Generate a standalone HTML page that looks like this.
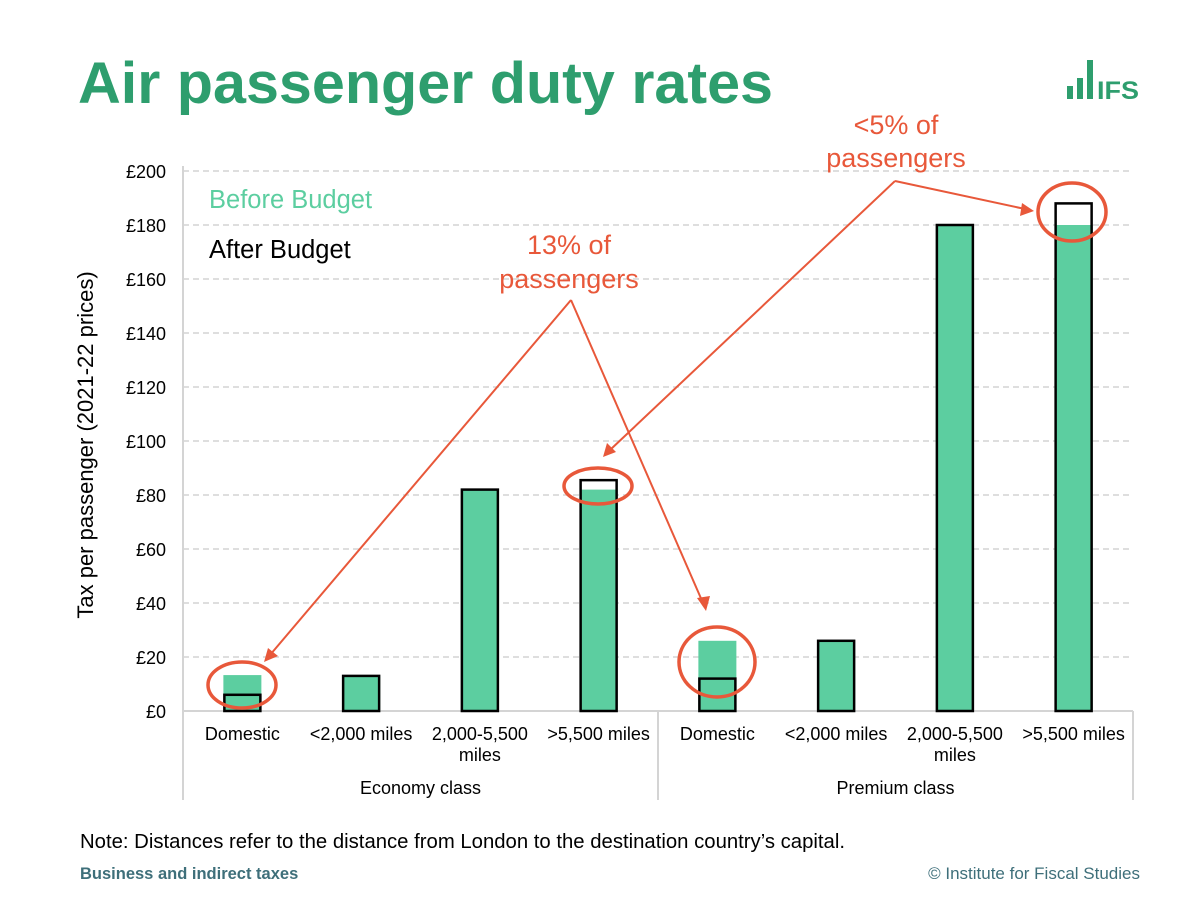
<!DOCTYPE html>
<html><head><meta charset="utf-8"><style>
body{margin:0;background:#fff;font-family:"Liberation Sans",sans-serif;}
svg text{font-family:"Liberation Sans",sans-serif;}
</style></head><body>
<svg id="c" width="1200" height="893" xmlns="http://www.w3.org/2000/svg">
<text x="78" y="103" font-size="58" font-weight="bold" fill="#2e9e6e" textLength="695" lengthAdjust="spacingAndGlyphs">Air passenger duty rates</text>
<g fill="#2e9e6e">
<rect x="1067" y="86" width="6" height="13"/><rect x="1077" y="78" width="6" height="21"/><rect x="1087" y="60" width="6" height="39"/>
<text x="1097" y="99" font-size="25" font-weight="bold" textLength="42" lengthAdjust="spacingAndGlyphs">IFS</text></g>
<g id="grid"></g>
<g id="bars"></g>
<g id="cats"></g>
<text transform="translate(93,445) rotate(-90)" text-anchor="middle" font-size="22" fill="#000">Tax per passenger (2021-22 prices)</text>
<text x="209" y="208" font-size="25.5" fill="#5ccea0">Before Budget</text>
<text x="209" y="258" font-size="25.5" fill="#000">After Budget</text>
<g fill="none" stroke="#e8583a" stroke-width="2">
<ellipse cx="242" cy="685" rx="34" ry="23" stroke-width="3.5"/>
<ellipse cx="598" cy="486" rx="34" ry="18" stroke-width="3.5"/>
<ellipse cx="717" cy="662" rx="38" ry="35" stroke-width="3.5"/>
<ellipse cx="1072" cy="212" rx="34" ry="29" stroke-width="3.5"/>
<line x1="571" y1="300" x2="270" y2="655"/>
<line x1="571" y1="300" x2="703" y2="603"/>
<line x1="895" y1="181" x2="610" y2="450"/>
<line x1="895" y1="181" x2="1025" y2="209"/>
</g>
<g fill="#e8583a">
<polygon points="264,662 268,648 278,656"/>
<polygon points="706,611 697,598 710,596"/>
<polygon points="603,457 607,443 616,452"/>
<polygon points="1034,211 1022,203 1020,216"/>
</g>
<g font-size="27" fill="#e8583a" text-anchor="middle">
<text x="569" y="254">13% of</text><text x="569" y="288">passengers</text>
<text x="896" y="134">&lt;5% of</text><text x="896" y="167">passengers</text>
</g>
<text x="80" y="848" font-size="20" fill="#000" textLength="765" lengthAdjust="spacingAndGlyphs">Note: Distances refer to the distance from London to the destination country’s capital.</text>
<text x="80" y="879" font-size="16.5" font-weight="bold" fill="#3e6f7a">Business and indirect taxes</text>
<text x="1140" y="879" font-size="17" fill="#3e6f7a" text-anchor="end">© Institute for Fiscal Studies</text>
</svg>
<script>
const categories=["Domestic","<2,000 miles","2,000-5,500|miles",">5,500 miles","Domestic","<2,000 miles","2,000-5,500|miles",">5,500 miles"];
const groups=["Economy class","Premium class"];
const beforeBudget=[13.3,13,82,82,26,26,180,180];
const afterBudget=[6,13,82,85.5,12,26,180,188];
const yTicks=[0,20,40,60,80,100,120,140,160,180,200];
const NS="http://www.w3.org/2000/svg";
const x0=183,x1=1133,y0=711,yTop=171,yMax=200;
const y=v=>y0-(v/yMax)*(y0-yTop);
const bw=(x1-x0)/categories.length;
const xc=i=>x0+bw*(i+0.5);
function mk(tag,attrs,parent,txt){const e=document.createElementNS(NS,tag);for(const k in attrs)e.setAttribute(k,attrs[k]);if(txt!==undefined)e.textContent=txt;document.getElementById(parent).appendChild(e);return e;}
yTicks.forEach(t=>{
 if(t>0){const l=mk('line',{x1:x0,x2:x1,y1:y(t),y2:y(t),stroke:'#d4d4d4','stroke-width':1.5,'stroke-dasharray':'6 4'},'grid');
 
 }
 const tx=mk('text',{x:166,y:y(t)+7,'font-size':18,'text-anchor':'end'},'grid','£'+t);
 
 
});
mk('line',{x1:x0,x2:x0,y1:y(200)-5,y2:800,stroke:'#d4d4d4','stroke-width':2},'grid');
mk('line',{x1:x0,x2:x1,y1:y0,y2:y0,stroke:'#d4d4d4','stroke-width':2},'grid');
[x0+bw*4,x1].forEach(xx=>mk('line',{x1:xx,x2:xx,y1:y0,y2:800,stroke:'#d4d4d4','stroke-width':2},'grid'));
const w=38;
categories.forEach((c,i)=>{
 const a=afterBudget[i],b=beforeBudget[i];
 const bg=mk('rect',{x:xc(i)-w/2,y:y(a),width:w,height:y0-y(a),fill:'#fff'},'bars');
 
 
 const g=mk('rect',{x:xc(i)-w/2,y:y(b),width:w,height:y0-y(b),fill:'#5ccea0'},'bars');
 
 
 const o=mk('rect',{x:xc(i)-w/2+1,y:y(a),width:w-2,height:y0-y(a),fill:'none',stroke:'#000','stroke-width':2.5},'bars');
 
 
 c.split('|').forEach((s,j)=>{const t=mk('text',{x:xc(i),y:740+j*21,'font-size':18,'text-anchor':'middle'},'cats',s);
 
 });
});
groups.forEach((g,k)=>{const t=mk('text',{x:x0+bw*(4*k+2),y:794,'font-size':18,'text-anchor':'middle'},'cats',g);
 
 });
</script>
</body></html>
